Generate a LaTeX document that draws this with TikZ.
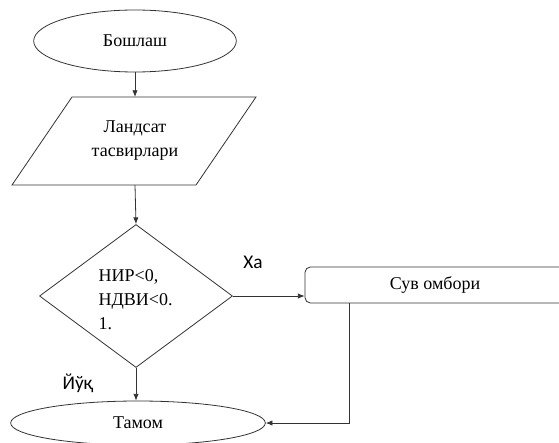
\documentclass[tikz,border=0pt]{standalone}
\usepackage{fontspec}
\setmainfont{Liberation Serif}
\newfontfamily\lblfont{Carlito}
\usetikzlibrary{shapes.geometric,arrows.meta,calc}
\begin{document}
\begin{tikzpicture}[x=0.75pt,y=-0.75pt,
  line/.style={draw=black!80, line width=0.6pt},
  arr/.style={line, -{Latex[length=5pt,width=4pt]}},
  term/.style={ellipse, line, inner sep=0pt},
  txt/.style={font=\fontsize{13.5}{18}\selectfont, align=center},
  lbl/.style={font=\lblfont\fontsize{14.5}{16}\selectfont}
]
\useasboundingbox (0,0) rectangle (559,442);
% start
\node[term, minimum width=152pt, minimum height=46.5pt, txt] (start) at (135,41) {Бошлаш};
% parallelogram
\coordinate (ptop) at (135,97);
\coordinate (pbot) at (135,185);
\draw[line] (72,97) -- (256,97) -- (196,185) -- (12,185) -- cycle;
\node[txt] (para) at (135,141) {Ландсат\\тасвирлари};
% diamond
\node[diamond, line, inner sep=0pt, minimum width=144.75pt, minimum height=107.25pt] (dia) at (136,296) {};
\node[txt, align=left, anchor=west] (cond) at (94,300) {НИР<0,\\НДВИ<0.\\1.};
% process
\node[draw=black!80, line width=0.6pt, rounded corners=4pt, minimum width=195pt, minimum height=27pt, txt] (sub) at (435,285) {Сув омбори};
% end
\node[term, minimum width=191pt, minimum height=33pt, txt] (end) at (138,423) {Тамом};
% labels
\node[lbl] (yes) at (253,262) {Ха};
\node[lbl] (no) at (78,383) {Йўқ};
% connectors
\draw[arr] (start.south) -- (ptop);
\draw[arr] (pbot) -- (dia.north);
\draw[arr] (dia.east) -- (dia.east -| sub.west);
\draw[arr] (dia.south) -- (end.north -| dia.south);
\draw[arr] ($(sub.south west)+(45,0)$) |- (end.east);
\end{tikzpicture}
\end{document}
